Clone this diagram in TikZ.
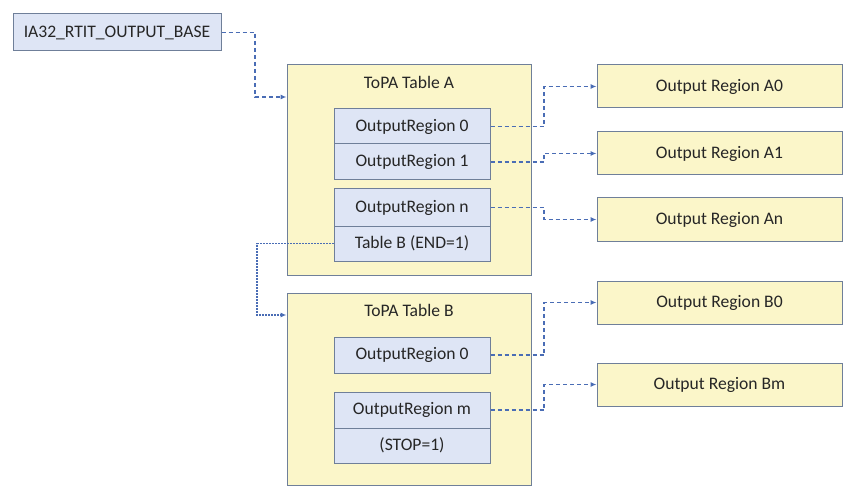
\documentclass[tikz,border=0pt]{standalone}
\usepackage{fontspec}
\setmainfont{Carlito}
\usetikzlibrary{arrows.meta}
\definecolor{bfill}{HTML}{DEE5F5}
\definecolor{yfill}{HTML}{FBF6C9}
\definecolor{edge}{HTML}{6F7F99}
\definecolor{conncol}{HTML}{4A6DB5}
\begin{document}
\begin{tikzpicture}[x=1pt,y=-1pt,
  every node/.style={font=\fontsize{17.6}{20}\selectfont, text=black!85, inner sep=0pt},
  bluebox/.style={draw=edge, line width=1pt, fill=bfill, rectangle},
  yelbox/.style={draw=edge, line width=1pt, fill=yfill, rectangle},
  conn/.style={draw=conncol, line width=1.1pt, dash pattern=on 4pt off 3pt, -{Latex[length=6pt,width=5pt]}},
  dotconn/.style={draw=conncol, line width=1.1pt, dash pattern=on 1.5pt off 1.5pt, -{Latex[length=6pt,width=5pt]}}]
\useasboundingbox (0,0) rectangle (860,500);
% register
\node[bluebox, minimum width=208pt, minimum height=37pt] (base) at (117,32.5) {IA32\_RTIT\_OUTPUT\_BASE};
% table A
\node[yelbox, minimum width=244pt, minimum height=210pt] (tA) at (409,170) {};
\node (tAt) at (409,82) {ToPA Table A};
\node[bluebox, minimum width=156pt, minimum height=35pt] (a0) at (412,126.5) {OutputRegion 0};
\node[bluebox, minimum width=156pt, minimum height=36pt] (a1) at (412,162) {OutputRegion 1};
\node[bluebox, minimum width=156pt, minimum height=37pt] (an) at (412,207.5) {OutputRegion n};
\node[bluebox, minimum width=156pt, minimum height=35pt] (aend) at (412,243.5) {Table B (END=1)};
% table B
\node[yelbox, minimum width=244pt, minimum height=192pt] (tB) at (409,389) {};
\node (tBt) at (409,310) {ToPA Table B};
\node[bluebox, minimum width=156pt, minimum height=36pt] (b0) at (412,355) {OutputRegion 0};
\node[bluebox, minimum width=156pt, minimum height=36pt] (bm) at (412,410) {OutputRegion m};
\node[bluebox, minimum width=156pt, minimum height=35pt] (bstop) at (412,445.5) {(STOP=1)};
% output regions
\node[yelbox, minimum width=245pt, minimum height=43pt] (oA0) at (719.5,86.5) {Output Region A0};
\node[yelbox, minimum width=245pt, minimum height=43pt] (oA1) at (719.5,153.5) {Output Region A1};
\node[yelbox, minimum width=245pt, minimum height=43pt] (oAn) at (719.5,219.5) {Output Region An};
\node[yelbox, minimum width=245pt, minimum height=43pt] (oB0) at (719.5,302.5) {Output Region B0};
\node[yelbox, minimum width=245pt, minimum height=43pt] (oBm) at (719.5,384.5) {Output Region Bm};
% helper coordinates
\coordinate (xb) at (255,0);
\coordinate (xm) at (544,0);
\coordinate (xd) at (257,0);
\coordinate (tAin) at (tA.north west |- 0,97);
\coordinate (tBin) at (tB.north west |- 0,315);
% connectors
\draw[conn] (base.east) -- (base.east -| xb) |- (tAin);
\draw[conn] (a0.east) -- (a0.east -| xm) |- (oA0.west);
\draw[conn] (a1.east) -- (a1.east -| xm) |- (oA1.west);
\draw[conn] (an.east) -- (an.east -| xm) |- (oAn.west);
\draw[conn] (b0.east) -- (b0.east -| xm) |- (oB0.west);
\draw[conn] (bm.east) -- (bm.east -| xm) |- (oBm.west);
\draw[dotconn] (aend.west) -- (aend.west -| xd) |- (tBin);
\end{tikzpicture}
\end{document}
